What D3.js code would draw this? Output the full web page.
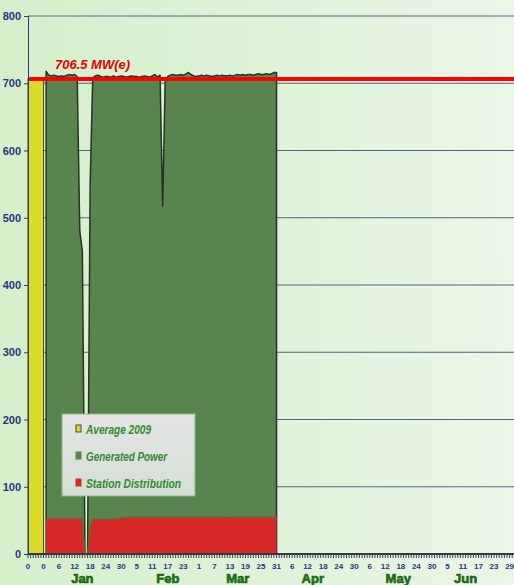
<!DOCTYPE html>
<html lang="en">
<head>
<meta charset="UTF-8">
<title>Generated Power 2010</title>
<style>
  body { margin: 0; background: #dff3d8; }
  svg { display: block; }
  .tick-y, .tick-x {
    font-family: 'Liberation Sans', Arial, sans-serif;
    font-weight: bold;
    fill: #2b3380;
  }
  .month {
    font-family: 'Liberation Sans', Arial, sans-serif;
    font-weight: bold;
    fill: #1d6b16;
    stroke: #1d6b16;
    stroke-width: 0.7px;
  }
  .legend-text {
    font-family: 'Liberation Sans', Arial, sans-serif;
    font-weight: bold;
    font-style: italic;
    fill: #2e8a2e;
  }
</style>
</head>
<body>
<div id="chart"></div>
<script src="https://d3js.org/d3.v7.min.js"></script>
<script>
// day index: 0 = "Jan 0" (Dec 31 2009), 1 = Jan 1 2010, 90 = Mar 31
const average2009 = 706.5;
const firstDay = 1;

// daily generated power, Jan 1 .. Mar 31, MW(e)
const generatedPower = [
  // Jan
  718, 712, 711, 712, 711, 710, 711, 710, 712, 713,
  712, 713, 710, 480, 450, 0, 0, 550, 708, 711,
  712, 710, 709, 710, 710, 709, 711, 709, 710, 711,
  710,
  // Feb
  709, 710, 711, 710, 710, 709, 710, 711, 710, 709,
  711, 713, 709, 712, 517, 706, 710, 712, 713, 712,
  712, 713, 712, 714, 716, 713, 711, 710,
  // Mar
  711, 712, 711, 712, 711, 710, 711, 712, 711, 712,
  711, 711, 712, 711, 712, 713, 712, 713, 712, 713,
  713, 712, 713, 714, 713, 713, 714, 713, 714, 716,
  716
];

// daily station distribution, Jan 1 .. Mar 31
const stationDistribution = [
  53, 53, 53, 53, 53, 53, 53, 53, 53, 53,
  53, 53, 53, 53, 53, 0, 0, 40, 52, 52,
  52, 52, 52, 52, 52, 52, 52, 53, 53, 54,
  54,
  55, 55, 55, 55, 55, 55, 55, 55, 55, 55,
  55, 55, 55, 55, 55, 55, 55, 55, 55, 55,
  55, 55, 55, 55, 55, 55, 55, 55,
  55, 55, 55, 55, 55, 55, 55, 55, 55, 55,
  55, 55, 55, 55, 55, 55, 55, 55, 55, 55,
  55, 55, 55, 55, 55, 55, 55, 55, 55, 55,
  55
];

const yTicks = [0, 100, 200, 300, 400, 500, 600, 700, 800];
const xTickLabels = ['0', '0', '6', '12', '18', '24', '30', '5', '11', '17', '23', '1', '7', '13', '19', '25', '31',
                     '6', '12', '18', '24', '30', '6', '12', '18', '24', '30', '5', '11', '17', '23', '29'];
const xTickDays = xTickLabels.map((l, i) => -6 + 6 * i);
const months = ['Jan', 'Feb', 'Mar', 'Apr', 'May', 'Jun'];
const monthLabelDays = [15, 48, 75, 104, 137, 163];

const legendItems = [
  { label: 'Average 2009', color: '#dcdc28', border: '#4a4a20', len: 65 },
  { label: 'Generated Power', color: '#5a844f', border: '#5a844f', len: 81 },
  { label: 'Station  Distribution', color: '#d92828', border: '#d92828', len: 95 }
];

const width = 514, height = 585;
const margin = { top: 16, right: 0, bottom: 31, left: 28 };

const svg = d3.select('#chart').append('svg')
  .attr('width', width)
  .attr('height', height);

// page background gradient
const defs = svg.append('defs');
const bg = defs.append('linearGradient').attr('id', 'bg')
  .attr('x1', '0%').attr('x2', '100%').attr('y1', '0%').attr('y2', '0%');
bg.append('stop').attr('offset', '0%').attr('stop-color', '#d4efca');
bg.append('stop').attr('offset', '100%').attr('stop-color', '#eaf6e6');

const lg = defs.append('linearGradient').attr('id', 'legbg')
  .attr('x1', '0%').attr('x2', '0%').attr('y1', '0%').attr('y2', '100%');
lg.append('stop').attr('offset', '0%').attr('stop-color', '#e4e4e4');
lg.append('stop').attr('offset', '100%').attr('stop-color', '#d4dfd4');

svg.append('rect')
  .attr('width', width).attr('height', height)
  .attr('fill', 'url(#bg)');

const x = d3.scaleLinear()
  .domain([-6, 181.7])
  .range([margin.left, width - margin.right]);

const y = d3.scaleLinear()
  .domain([0, 800])
  .range([height - margin.bottom, margin.top]);

// gridlines
svg.append('g')
  .selectAll('line')
  .data(yTicks.filter(t => t > 0))
  .join('line')
  .attr('x1', x(-6)).attr('x2', width)
  .attr('y1', d => y(d)).attr('y2', d => y(d))
  .attr('stroke', '#4b6784')
  .attr('stroke-width', 1);

// Average 2009 bar
svg.append('rect')
  .attr('x', x(-6))
  .attr('y', y(average2009))
  .attr('width', x(0) - x(-6))
  .attr('height', y(0) - y(average2009))
  .attr('fill', '#dcdc28')
  .attr('stroke', '#4a4a20')
  .attr('stroke-width', 1);

const genData = generatedPower.map((v, i) => ({ day: firstDay + i, value: v }));
const stData = stationDistribution.map((v, i) => ({ day: firstDay + i, value: v }));

const area = d3.area()
  .x(d => x(d.day))
  .y0(y(0))
  .y1(d => y(d.value));

svg.append('path')
  .datum(genData)
  .attr('d', area)
  .attr('fill', '#5a844f')
  .attr('stroke', '#263326')
  .attr('stroke-width', 1.5)
  .attr('stroke-linejoin', 'round');

svg.append('path')
  .datum(stData)
  .attr('d', area)
  .attr('fill', '#d92828');

svg.append('path')
  .datum(stData)
  .attr('d', d3.line().x(d => x(d.day)).y(d => y(d.value)))
  .attr('fill', 'none')
  .attr('stroke', '#4d7a2e')
  .attr('stroke-width', 1);

// average line
svg.append('line')
  .attr('x1', x(-6)).attr('x2', width)
  .attr('y1', y(average2009)).attr('y2', y(average2009))
  .attr('stroke', '#ff0000')
  .attr('stroke-width', 4);

svg.append('text')
  .attr('x', 55)
  .attr('y', y(average2009) - 10)
  .attr('font-family', "'Liberation Sans', Arial, sans-serif")
  .attr('font-size', 13.5)
  .attr('font-weight', 'bold')
  .attr('font-style', 'italic')
  .attr('fill', '#e00000')
  .attr('textLength', 75)
  .attr('lengthAdjust', 'spacingAndGlyphs')
  .text(`${average2009} MW(e)`);

// y axis
const yAxis = svg.append('g')
  .attr('transform', `translate(${x(-6)},0)`)
  .call(d3.axisLeft(y).tickValues(yTicks).tickSize(4).tickPadding(3));
yAxis.select('.domain').attr('stroke', '#2b3a80').attr('stroke-width', 1);
yAxis.selectAll('.tick line').attr('stroke', '#2b3a80');
yAxis.selectAll('.tick text')
  .attr('class', 'tick-y')
  .attr('font-size', 11)
  .attr('fill', null);

// x axis: daily minor ticks
const xAxisG = svg.append('g')
  .attr('transform', `translate(0,${y(0)})`);
xAxisG.selectAll('line.minor')
  .data(d3.range(-6, 182))
  .join('line')
  .attr('class', 'minor')
  .attr('x1', d => x(d)).attr('x2', d => x(d))
  .attr('y1', 1).attr('y2', 4)
  .attr('stroke', '#3a3f60')
  .attr('stroke-width', 1);
xAxisG.append('line')
  .attr('x1', x(-6)).attr('x2', width)
  .attr('y1', 0).attr('y2', 0)
  .attr('stroke', '#333a40')
  .attr('stroke-width', 2);

xAxisG.selectAll('text.tick-x')
  .data(xTickDays)
  .join('text')
  .attr('class', 'tick-x')
  .attr('x', d => x(d))
  .attr('y', 14.5)
  .attr('text-anchor', 'middle')
  .attr('font-size', 8)
  .text((d, i) => xTickLabels[i]);

svg.selectAll('text.month')
  .data(months)
  .join('text')
  .attr('class', 'month')
  .attr('x', (d, i) => x(monthLabelDays[i]))
  .attr('y', 583)
  .attr('text-anchor', 'middle')
  .attr('font-size', 13)
  .text(d => d);

// legend
const legend = svg.append('g').attr('transform', 'translate(62,414)');
legend.append('rect')
  .attr('width', 133).attr('height', 82)
  .attr('fill', 'url(#legbg)')
  .attr('stroke', '#8fb08a')
  .attr('stroke-width', 1);

const li = legend.selectAll('g.item')
  .data(legendItems)
  .join('g')
  .attr('class', 'item')
  .attr('transform', (d, i) => `translate(0,${15 + i * 27})`);
li.append('rect')
  .attr('x', 14).attr('y', -4)
  .attr('width', 5).attr('height', 7)
  .attr('fill', d => d.color)
  .attr('stroke', d => d.border)
  .attr('stroke-width', 1);
li.append('text')
  .attr('class', 'legend-text')
  .attr('x', 24)
  .attr('y', 4.5)
  .attr('font-size', 12.5)
  .attr('textLength', d => d.len)
  .attr('lengthAdjust', 'spacingAndGlyphs')
  .text(d => d.label);
</script>
</body>
</html>
